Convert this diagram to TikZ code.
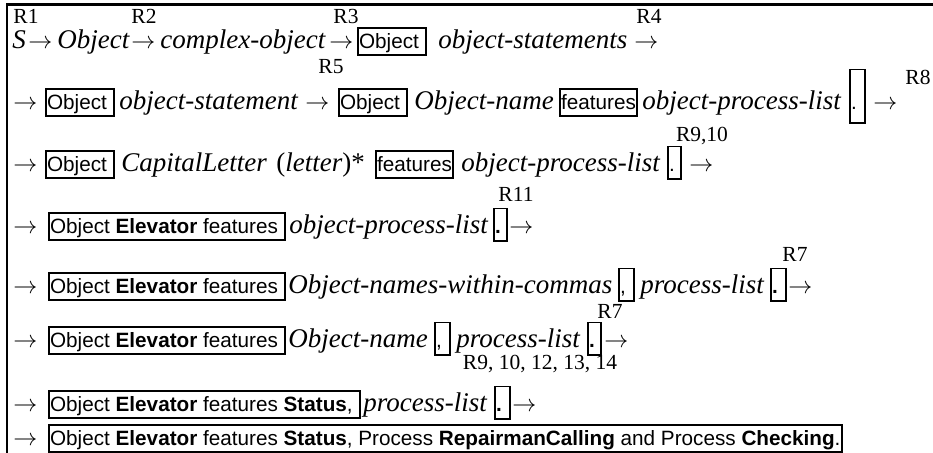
\documentclass[tikz,border=0pt]{standalone}
\usepackage{fontspec}
\setmainfont{Liberation Serif}
\newfontfamily\arialfont{Liberation Sans}
\usetikzlibrary{positioning}

\newcommand{\boxgap}{\kern2.9pt}

\tikzset{
  deriv/.style={inner sep=0pt, anchor=base west, font=\fontsize{13.5}{16}\selectfont\itshape},
  arr/.style={inner sep=0pt, anchor=base west, font=\fontsize{12.5}{15}\selectfont},
  kwbox/.style={draw, line width=0.9pt, anchor=base west, inner xsep=0.6pt, inner ysep=0.75pt,
    text height=9.75pt, text depth=2.25pt, font=\arialfont\fontsize{10.35}{12}\selectfont},
  dotbox/.style={kwbox, text height=12pt, text depth=2.75pt},
  tallbox/.style={kwbox, text height=19.5pt, text depth=5.75pt},
  rulelabel/.style={inner sep=0pt, font=\fontsize{10.75}{12}\selectfont},
}

\begin{document}
\begin{tikzpicture}[x=0.5pt, y=-0.5pt]
  \useasboundingbox (0,0) rectangle (933,453);
  \draw[line width=1.2pt] (7,453) -- (7,4.5) -- (933,4.5);

  % rule numbers
  \node[rulelabel] (r1) at (26,16) {R1};
  \node[rulelabel] (r2) at (144,16) {R2};
  \node[rulelabel] (r3) at (346,16) {R3};
  \node[rulelabel] (r4) at (649,16) {R4};
  \node[rulelabel] (r5) at (331,67) {R5};
  \node[rulelabel] (r8) at (918,77) {R8};
  \node[rulelabel] (r9) at (702,136) {R9,10};
  \node[rulelabel] (r11) at (516,194) {R11};
  \node[rulelabel] (r7) at (795,254) {R7};
  \node[rulelabel] (r7b) at (610,311) {R7};
  \node[rulelabel] (r9b) at (540,364) {R9, 10, 12, 13, 14};

  % line 1
  \node[deriv] (a1) at (12,49) {S};
  \node[arr] (a2) at (28,49) {$\rightarrow$};
  \node[deriv] (a3) at (57,49) {Object};
  \node[arr] (a4) at (131,49) {$\rightarrow$};
  \node[deriv] (a5) at (160,49) {complex-object};
  \node[arr] (a6) at (329,49) {$\rightarrow$};
  \node[kwbox] (a7) at (357,49) {Object\boxgap};
  \node[deriv] (a8) at (438,49) {object-statements};
  \node[arr] (a9) at (634,49) {$\rightarrow$};

  % line 2
  \node[arr] (b1) at (13,110) {$\rightarrow$};
  \node[kwbox] (b2) at (45,110) {Object\boxgap};
  \node[deriv] (b3) at (119,110) {object-statement};
  \node[arr] (b4) at (305,110) {$\rightarrow$};
  \node[kwbox] (b5) at (338,110) {Object\boxgap};
  \node[deriv] (b6) at (414,110) {Object-name};
  \node[kwbox] (b7) at (559,110) {features};
  \node[deriv] (b8) at (642,110) {object-process-list};
  \node[tallbox] (b9) at (849,110) {\makebox[6.5pt][l]{.}};
  \node[arr] (b10) at (873,110) {$\rightarrow$};

  % line 3
  \node[arr] (c1) at (13,172) {$\rightarrow$};
  \node[kwbox] (c2) at (45,172) {Object\boxgap};
  \node[deriv] (c3) at (121,172) {CapitalLetter};
  \node[deriv] (c4) at (276,172) {\upshape(\textit{letter})*};
  \node[kwbox] (c5) at (375,172) {features};
  \node[deriv] (c6) at (461,172) {object-process-list};
  \node[dotbox] (c7) at (667,172) {\makebox[5.5pt][l]{.}};
  \node[arr] (c8) at (689,172) {$\rightarrow$};

  % line 4
  \node[arr] (d1) at (13,234) {$\rightarrow$};
  \node[kwbox] (d2) at (48,234) {Object \textbf{Elevator} features\boxgap};
  \node[deriv] (d3) at (289,234) {object-process-list};
  \node[dotbox] (d4) at (493,234) {\makebox[5.5pt][l]{\textbf{.}}};
  \node[arr] (d5) at (509,234) {$\rightarrow$};

  % line 5
  \node[arr] (e1) at (13,294) {$\rightarrow$};
  \node[kwbox] (e2) at (48,294) {Object \textbf{Elevator} features\boxgap};
  \node[deriv] (e3) at (288,294) {Object-names-within-commas};
  \node[dotbox] (e4) at (618,294) {\makebox[6.5pt][l]{,}};
  \node[deriv] (e5) at (640,294) {process-list};
  \node[dotbox] (e6) at (770,294) {\makebox[6.5pt][l]{\textbf{.}}};
  \node[arr] (e7) at (788,294) {$\rightarrow$};

  % line 6
  \node[arr] (f1) at (13,348) {$\rightarrow$};
  \node[kwbox] (f2) at (48,348) {Object \textbf{Elevator} features\boxgap};
  \node[deriv] (f3) at (288,348) {Object-name};
  \node[dotbox] (f4) at (434,348) {\makebox[6.5pt][l]{,}};
  \node[deriv] (f5) at (456,348) {process-list};
  \node[dotbox] (f6) at (587,348) {\makebox[5.5pt][l]{\textbf{.}}};
  \node[arr] (f7) at (604,348) {$\rightarrow$};

  % line 7
  \node[arr] (g1) at (13,412) {$\rightarrow$};
  \node[kwbox] (g2) at (48,412) {Object \textbf{Elevator} features \textbf{Status},\boxgap};
  \node[deriv] (g3) at (363,412) {process-list};
  \node[dotbox] (g4) at (494,412) {\makebox[6.5pt][l]{\textbf{.}}};
  \node[arr] (g5) at (512,412) {$\rightarrow$};

  % line 8
  \node[arr] (h1) at (13,446) {$\rightarrow$};
  \node[kwbox] (h2) at (48,446) {Object \textbf{Elevator} features \textbf{Status}, Process \textbf{RepairmanCalling} and Process \textbf{Checking}.};
\end{tikzpicture}
\end{document}
